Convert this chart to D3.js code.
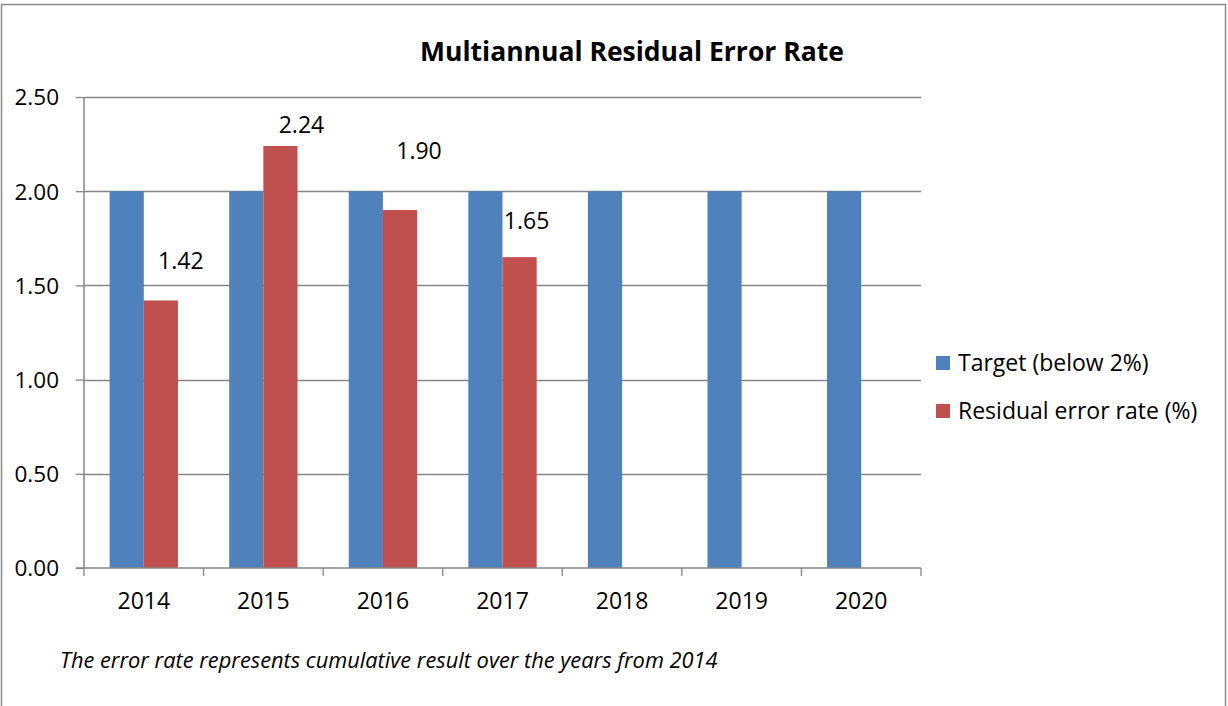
<!DOCTYPE html>
<html>
<head>
<meta charset="utf-8">
<script src="https://cdn.jsdelivr.net/npm/d3@7"></script>
<style>
  html, body { margin: 0; padding: 0; background: #fff; }
  svg { display: block; }
  text { font-family: "Open Sans", "Liberation Sans", sans-serif; fill: #000; }
</style>
</head>
<body>
<svg id="chart" width="1228" height="706"></svg>
<script>
// ---- data ----
const years = ["2014", "2015", "2016", "2017", "2018", "2019", "2020"];
const targetValues = [2, 2, 2, 2, 2, 2, 2];
const residualValues = [1.42, 2.24, 1.90, 1.65, null, null, null];
const yTicks = [0, 0.5, 1.0, 1.5, 2.0, 2.5];
const seriesNames = ["Target (below 2%)", "Residual error rate (%)"];
const titleText = "Multiannual Residual Error Rate";
const noteText = "The error rate represents cumulative result over the years from 2014";

// ---- styling / layout (not data) ----
const colors = ["#4F81BD", "#C0504D"];
const labelNudge = [[20, -40], [21, -21], [19, -59], [7, -36], [0, 0], [0, 0], [0, 0]];
const plot = { left: 84, right: 921, top: 97, bottom: 568 };

const svg = d3.select("#chart");

// outer border
svg.append("rect")
  .attr("x", 1.5).attr("y", 4.5)
  .attr("width", 1224).attr("height", 720)
  .attr("fill", "none").attr("stroke", "#8c8c8c").attr("stroke-width", 1.5);

const x = d3.scaleBand().domain(years).range([plot.left, plot.right]).paddingInner(0).paddingOuter(0);
const x1 = d3.scaleBand().domain([0, 1]).range([0, x.bandwidth()]).paddingInner(0).paddingOuter(0.75);
const y = d3.scaleLinear().domain([0, 2.5]).range([plot.bottom, plot.top]);

// gridlines
svg.append("g").selectAll("line").data(yTicks.filter(d => d > 0)).join("line")
  .attr("x1", plot.left).attr("x2", plot.right)
  .attr("y1", d => Math.round(y(d)) + 0.5).attr("y2", d => Math.round(y(d)) + 0.5)
  .attr("stroke", "#868686").attr("stroke-width", 1.3);

// bars
const series = [targetValues, residualValues];
series.forEach((vals, si) => {
  svg.append("g").selectAll("rect")
    .data(years.map((yr, i) => ({ yr, v: vals[i] })).filter(d => d.v != null))
    .join("rect")
    .attr("x", d => x(d.yr) + x1(si))
    .attr("width", x1.bandwidth())
    .attr("y", d => y(d.v))
    .attr("height", d => y(0) - y(d.v))
    .attr("fill", colors[si]);
});

// y axis
const yAxis = d3.axisLeft(y).tickValues(yTicks).tickFormat(d3.format(".2f")).tickSize(8).tickPadding(17);
const gy = svg.append("g").attr("transform", `translate(${plot.left},0)`).call(yAxis);
gy.select(".domain").attr("stroke", "#868686").attr("stroke-width", 1.5).attr("d", `M0,${plot.top}V${plot.bottom}`);
gy.selectAll(".tick line").attr("stroke", "#868686").attr("stroke-width", 1.3);
gy.selectAll(".tick text").attr("font-size", 22.5).attr("font-family", "Open Sans").attr("fill", "#000").attr("dy", "0.35em");

// x axis
const xAxis = d3.axisBottom(x).tickSize(0).tickPadding(25);
const gx = svg.append("g").attr("transform", `translate(0,${plot.bottom})`).call(xAxis);
gx.select(".domain").attr("stroke", "#868686").attr("stroke-width", 1.5).attr("d", `M${plot.left - 8},0H${plot.right}`);
gx.selectAll(".tick text").attr("font-size", 23).attr("font-family", "Open Sans").attr("fill", "#000");
// category separators
svg.append("g").selectAll("line").data(years.concat(["end"])).join("line")
  .attr("x1", (d, i) => i < years.length ? x(d) : plot.right)
  .attr("x2", (d, i) => i < years.length ? x(d) : plot.right)
  .attr("y1", plot.bottom).attr("y2", plot.bottom + 8)
  .attr("stroke", "#868686").attr("stroke-width", 1.3);

// data labels
svg.append("g").selectAll("text")
  .data(years.map((yr, i) => ({ yr, v: residualValues[i], n: labelNudge[i] })).filter(d => d.v != null))
  .join("text")
  .attr("x", d => x(d.yr) + x1(1) + x1.bandwidth() / 2 + d.n[0])
  .attr("y", d => y(d.v) + d.n[1])
  .attr("text-anchor", "middle").attr("dy", "0.35em")
  .attr("font-size", 23)
  .text(d => d3.format(".2f")(d.v));

// title
svg.append("text")
  .attr("x", 632).attr("y", 52).attr("dy", "0.35em")
  .attr("text-anchor", "middle").attr("font-weight", "bold").attr("font-size", 26.5)
  .text(titleText);

// legend
const lg = svg.append("g").attr("transform", "translate(936,363)");
seriesNames.forEach((name, i) => {
  const g = lg.append("g").attr("transform", `translate(0,${i * 48})`);
  g.append("rect").attr("x", 0).attr("y", -7).attr("width", 14).attr("height", 14).attr("fill", colors[i]);
  g.append("text").attr("x", 22).attr("y", 0).attr("dy", "0.35em").attr("font-size", 23).text(name);
});

// footnote
svg.append("text")
  .attr("x", 60).attr("y", 660).attr("dy", "0.35em")
  .attr("font-size", 21.8).attr("font-style", "italic")
  .text(noteText);
</script>
</body>
</html>
